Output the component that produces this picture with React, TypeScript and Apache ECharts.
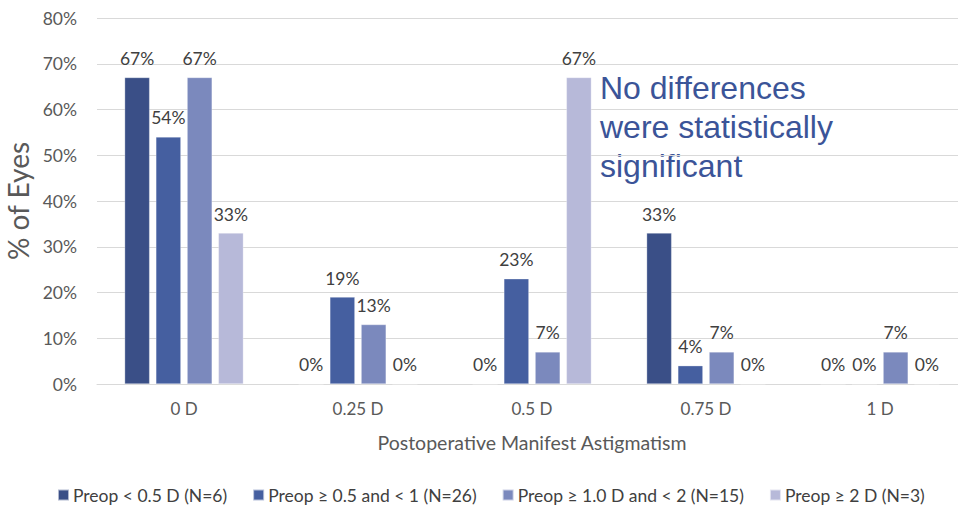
import React, { useEffect, useRef } from "react";
import * as echarts from "echarts";

const categories = ["0 D", "0.25 D", "0.5 D", "0.75 D", "1 D"];
const seriesNames = [
  "Preop < 0.5 D (N=6)",
  "Preop ≥ 0.5 and < 1 (N=26)",
  "Preop ≥ 1.0 D and < 2 (N=15)",
  "Preop ≥ 2 D (N=3)",
];
const preopUnder05 = [67, 0, 0, 33, 0];
const preop05to1 = [54, 19, 23, 4, 0];
const preop1to2 = [67, 13, 7, 7, 7];
const preop2plus = [33, 0, 67, 0, 0];
const yTicks = [0, 10, 20, 30, 40, 50, 60, 70, 80];

const colors = ["#3A4F87", "#455FA0", "#7B89BD", "#B7B9D9"];
const FONT = "Lato, 'Noto Sans', sans-serif";

export default function App() {
  const ref = useRef<HTMLDivElement>(null);

  useEffect(() => {
    if (!ref.current) return;
    const chart = echarts.init(ref.current, undefined, { renderer: "svg" });
    const values = [preopUnder05, preop05to1, preop1to2, preop2plus];

    chart.setOption({
      animation: false,
      textStyle: { fontFamily: FONT },
      grid: {
        left: 97,
        top: 18,
        width: 870,
        bottom: 121,
        containLabel: false,
        outerBoundsMode: "none",
      },
      legend: {
        left: 52,
        top: 481,
        itemWidth: 11,
        itemHeight: 11,
        itemGap: 25,
        icon: "rect",
        textStyle: { fontSize: 17.5, color: "#404040", fontFamily: FONT, padding: [0, 0, 0, -1] },
        data: seriesNames,
      },
      xAxis: {
        type: "category",
        data: categories,
        axisTick: { show: false },
        axisLine: { lineStyle: { color: "#D9D9D9", width: 1 } },
        axisLabel: { color: "#595959", fontSize: 17, margin: 16 },
        name: "Postoperative Manifest Astigmatism",
        nameLocation: "middle",
        nameGap: 48,
        nameTextStyle: { color: "#595959", fontSize: 19.5 },
      },
      yAxis: {
        type: "value",
        min: yTicks[0],
        max: yTicks[yTicks.length - 1],
        interval: 10,
        axisLabel: { color: "#595959", fontSize: 17.5, margin: 20, formatter: "{value}%" },
        splitLine: { lineStyle: { color: "#D9D9D9", width: 1 } },
        axisLine: { show: false },
        axisTick: { show: false },
        name: "% of Eyes",
        nameLocation: "middle",
        nameGap: 63,
        nameTextStyle: { color: "#595959", fontSize: 28 },
      },
      series: values.map((v, i) => ({
        name: seriesNames[i],
        type: "bar",
        data: v,
        barWidth: 25,
        barGap: "25%",
        itemStyle: { color: colors[i], borderColor: "rgba(255,255,255,0.6)", borderWidth: 0.5 },
        label: {
          show: true,
          position: "top",
          distance: 10,
          color: "#404040",
          fontSize: 17.5,
          formatter: "{c}%",
        },
      })),
      graphic: [
        {
          type: "text",
          left: 600,
          top: 68,
          style: {
            text: "No differences\nwere statistically\nsignificant",
            fill: "#3B5498",
            fontSize: 32,
            lineHeight: 39,
            fontFamily: "'Liberation Sans', Arial, sans-serif",
          },
        },
      ],
    });

    return () => chart.dispose();
  }, []);

  return <div ref={ref} style={{ width: 958, height: 505, position: "absolute", left: 0, top: 0 }} />;
}
